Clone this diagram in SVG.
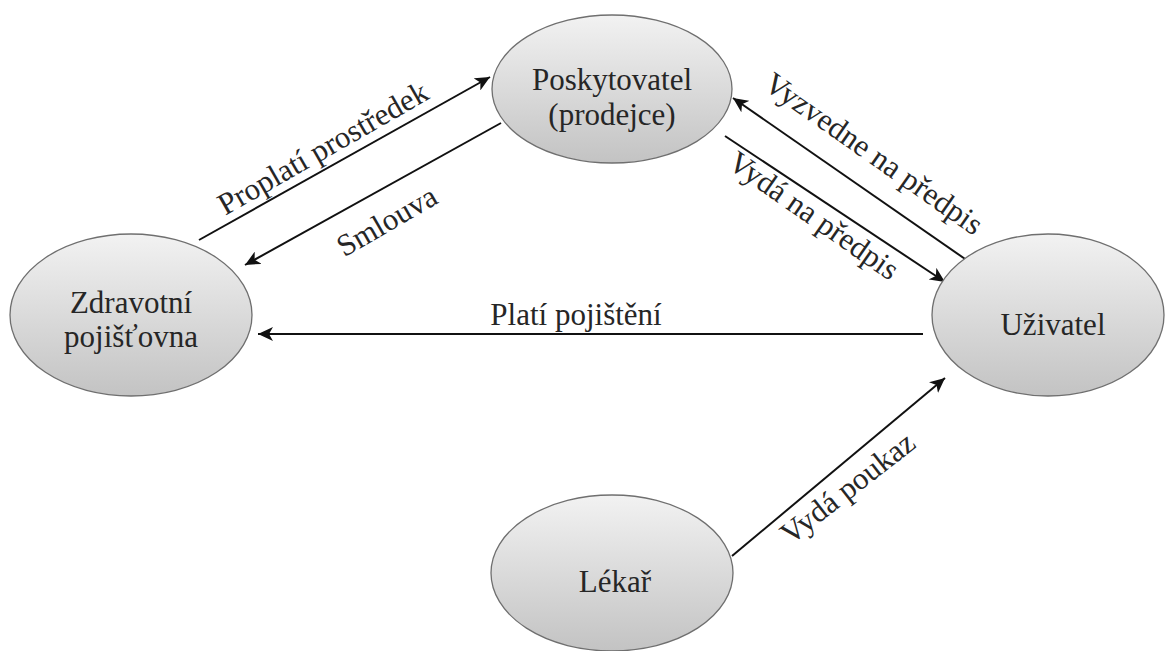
<svg xmlns="http://www.w3.org/2000/svg" width="1165" height="651" viewBox="0 0 1165 651">
  <style>
    .node { fill: url(#shade); stroke: #6f6f6f; stroke-width: 1.3; }
    .lbl { font-family: 'Liberation Serif', 'DejaVu Serif', serif; font-size: 31px; fill: #262626; }
    .ctr { text-anchor: middle; }
    .edge { stroke: #111; stroke-width: 2; fill: none; marker-end: url(#arrow); }
  </style>
  <defs>
    <linearGradient id="shade" x1="0" y1="0" x2="0" y2="1">
      <stop offset="0" stop-color="#f2f2f2"/>
      <stop offset="1" stop-color="#c3c3c3"/>
    </linearGradient>
    <marker id="arrow" markerUnits="userSpaceOnUse" markerWidth="16" markerHeight="14" refX="15" refY="7" orient="auto">
      <path d="M0,0 L15,7 L0,14 L4,7 z" fill="#111"/>
    </marker>
  </defs>
  <rect width="1165" height="651" fill="#fff"/>

  <!-- connectors -->
  <g id="connectors">
    <line class="edge" x1="199" y1="240" x2="490" y2="77"/>
    <line class="edge" x1="501" y1="123" x2="245" y2="265"/>
    <line class="edge" x1="968" y1="261" x2="733" y2="98"/>
    <line class="edge" x1="725" y1="136" x2="945" y2="282"/>
    <line class="edge" x1="923" y1="334" x2="258" y2="334"/>
    <line class="edge" x1="732" y1="556" x2="945" y2="378"/>

    <text class="lbl ctr" transform="translate(328,157) rotate(-29.8)">Proplatí prostředek</text>
    <text class="lbl ctr" transform="translate(392,230) rotate(-30)">Smlouva</text>
    <text class="lbl ctr" transform="translate(868,162) rotate(35)">Vyzvedne na předpis</text>
    <text class="lbl ctr" transform="translate(808,224) rotate(35)">Vydá na předpis</text>
    <text class="lbl ctr" x="576" y="325">Platí pojištění</text>
    <text class="lbl ctr" transform="translate(854,496) rotate(-38)">Vydá poukaz</text>
  </g>

  <!-- nodes -->
  <g id="poskytovatel">
    <ellipse class="node" cx="612" cy="89" rx="120" ry="74"/>
    <text class="lbl ctr" x="612" y="90">Poskytovatel</text>
    <text class="lbl ctr" x="612" y="125">(prodejce)</text>
  </g>
  <g id="pojistovna">
    <ellipse class="node" cx="131" cy="315" rx="121" ry="81"/>
    <text class="lbl ctr" x="131" y="313">Zdravotní</text>
    <text class="lbl ctr" x="131" y="347">pojišťovna</text>
  </g>
  <g id="uzivatel">
    <ellipse class="node" cx="1048" cy="315" rx="116" ry="81"/>
    <text class="lbl ctr" x="1053" y="335">Uživatel</text>
  </g>
  <g id="lekar">
    <ellipse class="node" cx="612" cy="573" rx="121" ry="78"/>
    <text class="lbl ctr" x="615" y="592">Lékař</text>
  </g>
</svg>
